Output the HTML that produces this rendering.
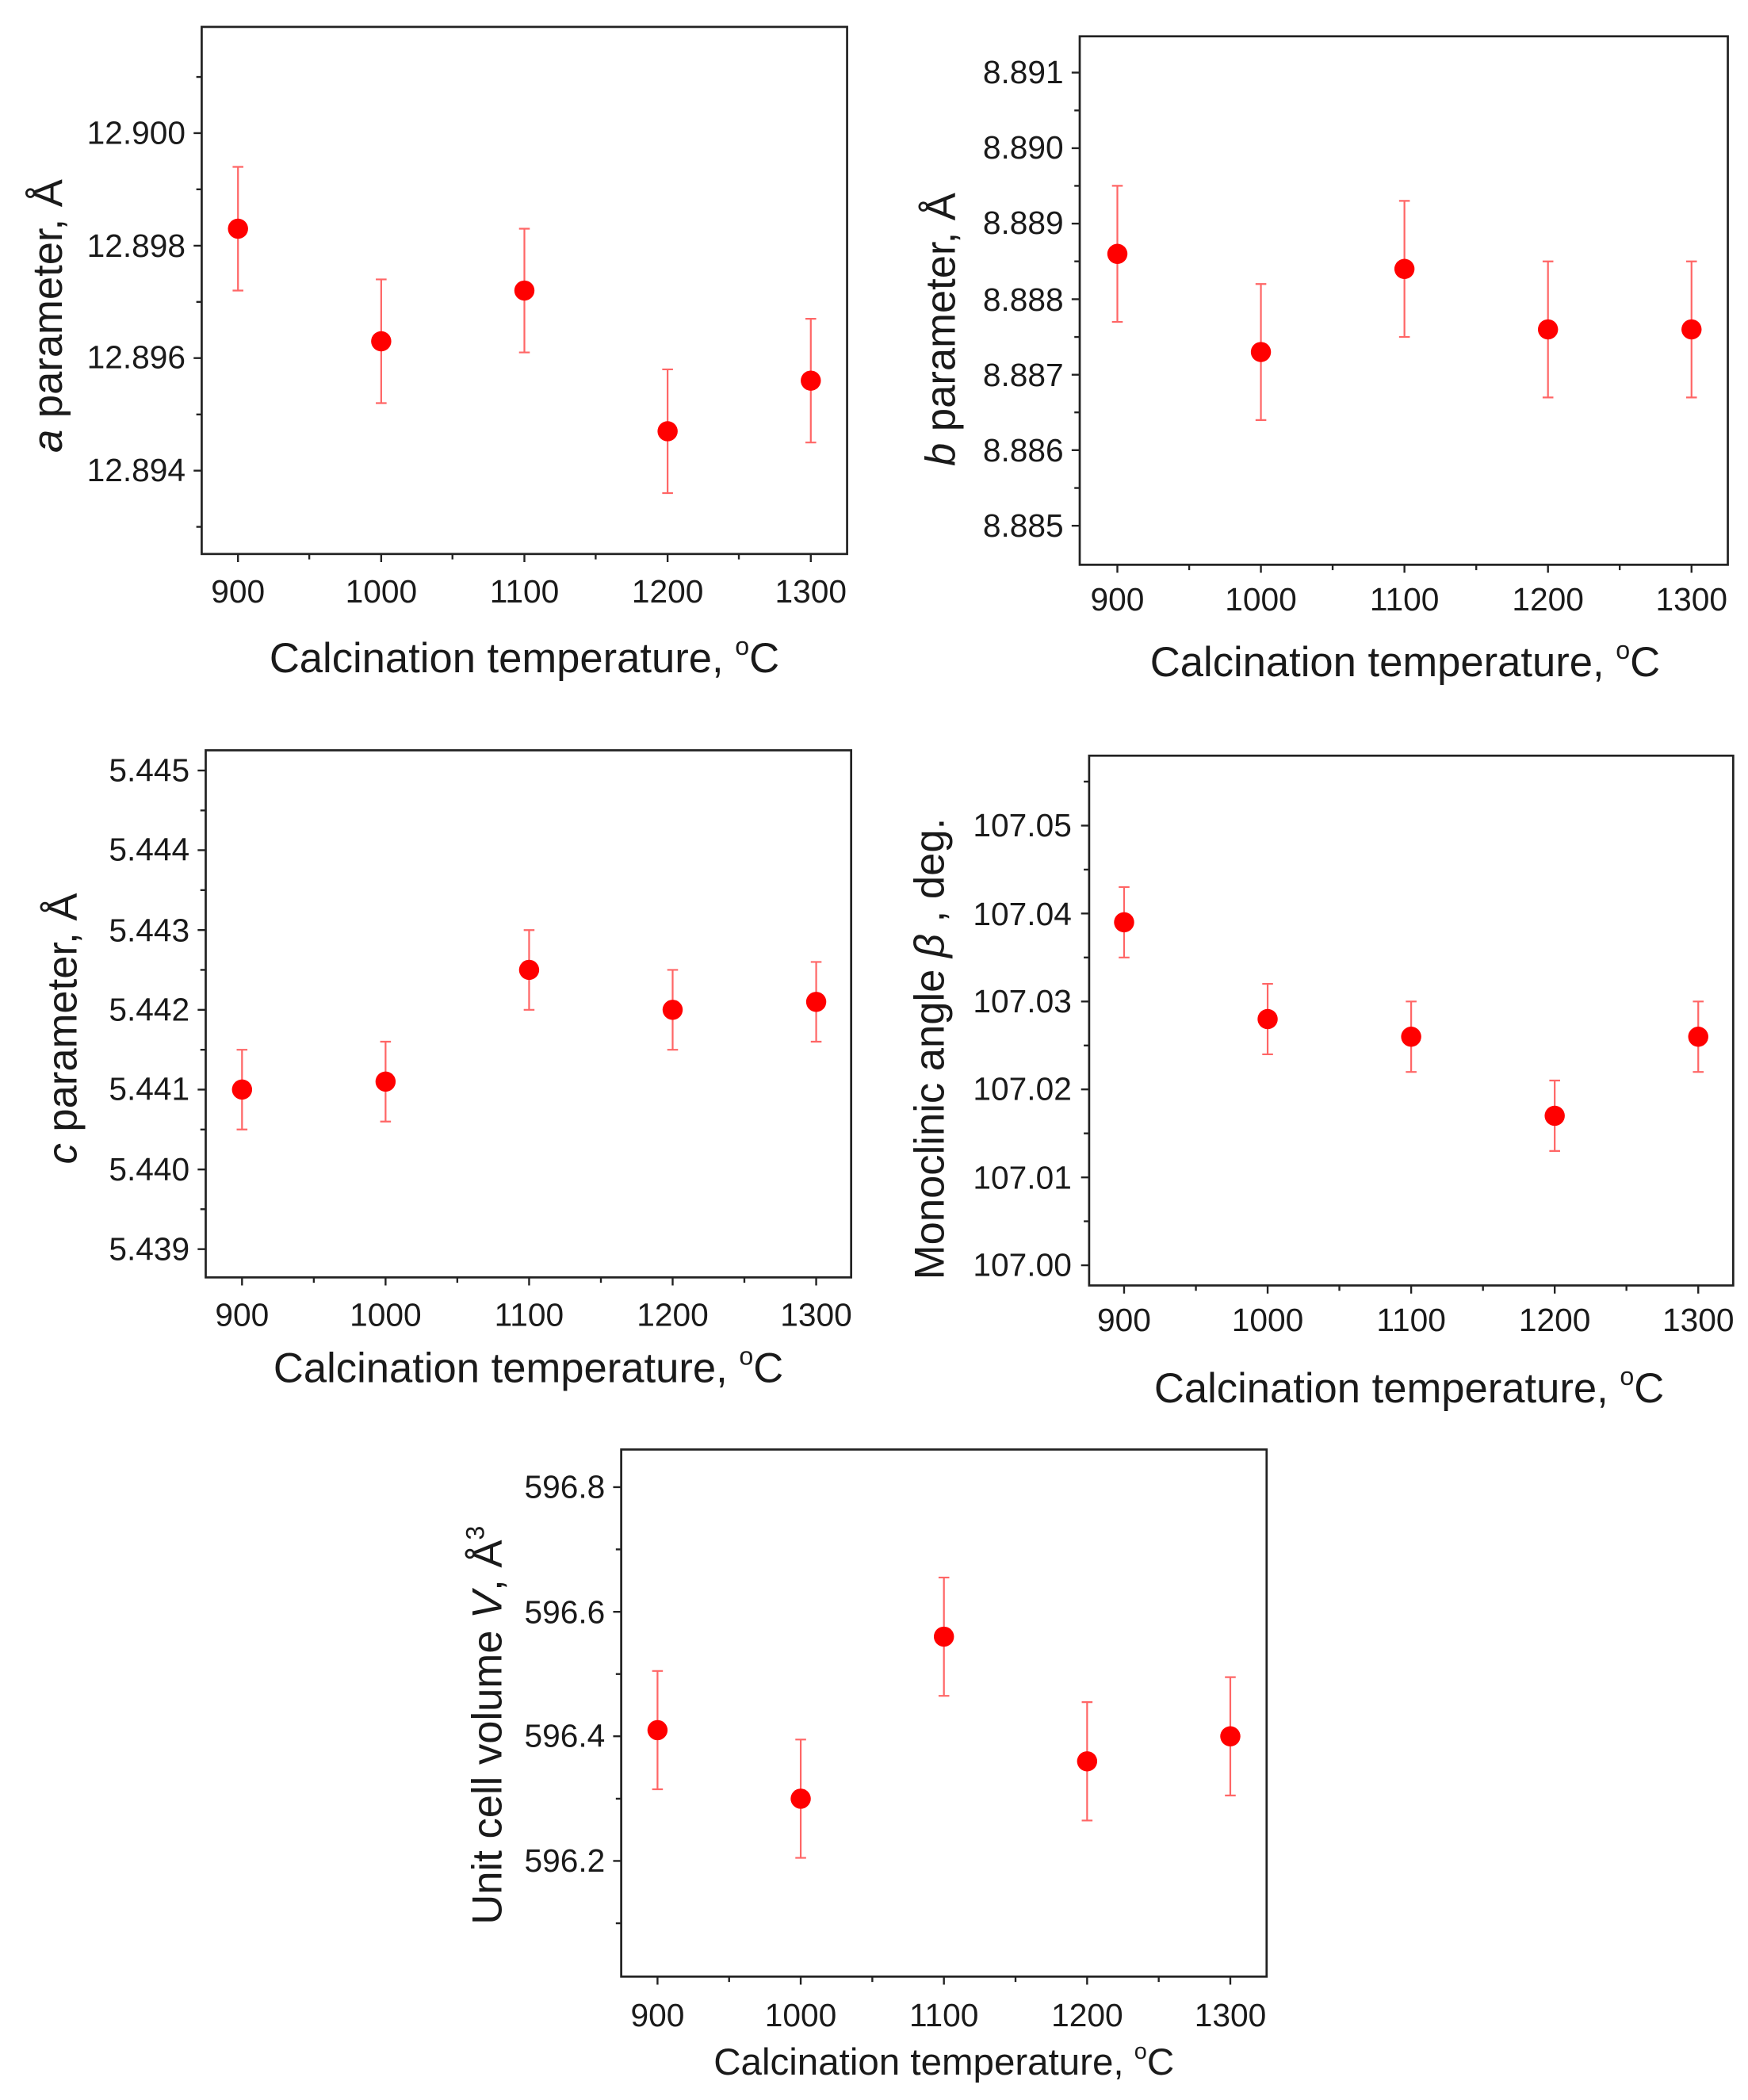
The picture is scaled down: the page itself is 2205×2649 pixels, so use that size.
<!DOCTYPE html>
<html><head><meta charset="utf-8"><style>
html,body{margin:0;padding:0;background:#fff;}
svg{display:block;}
text{font-family:"Liberation Sans",Arial,sans-serif;fill:#1a1a1a;}
.t{font-size:24px;}
.ti{font-size:31px;}
.ax{fill:none;stroke:#222;stroke-width:1.6;}
.tk{stroke:#222;stroke-width:1.4;}
.eb{stroke:#f66;stroke-width:1.3;fill:none;}
.pt{fill:#f00;}
</style></head><body>
<svg width="2205" height="2649" viewBox="0 0 2205 2649" xmlns="http://www.w3.org/2000/svg">
<g transform="scale(1.69615)">

<!-- Plot 1 -->
<rect class="ax" x="150" y="20" width="480" height="392"/>
<path class="tk" d="M150 99h-6M150 182.7h-6M150 266.3h-6M150 350h-6M150 57.2h-4M150 140.8h-4M150 224.5h-4M150 308.2h-4M150 391.8h-4
M177 412v6M283.5 412v6M390 412v6M496.5 412v6M603 412v6M230 412v4M336.5 412v4M443 412v4M549.5 412v4"/>
<g class="t" text-anchor="end">
<text x="138" y="107">12.900</text><text x="138" y="191">12.898</text><text x="138" y="274">12.896</text><text x="138" y="358">12.894</text>
</g>
<g class="t" text-anchor="middle">
<text x="177" y="448">900</text><text x="283.5" y="448">1000</text><text x="390" y="448">1100</text><text x="496.5" y="448">1200</text><text x="603" y="448">1300</text>
</g>
<text class="ti" x="390" y="500" text-anchor="middle">Calcination temperature, <tspan font-size="19" dy="-13">o</tspan><tspan dy="13">C</tspan></text>
<text class="ti" transform="translate(46,235) rotate(-90)" text-anchor="middle"><tspan font-style="italic">a</tspan> parameter, Å</text>
<path class="eb" d="M177 124.1V216.1M173 124.1h8M173 216.1h8M283.5 207.8V299.8M279.5 207.8h8M279.5 299.8h8M390 170.1V262.1M386 170.1h8M386 262.1h8M496.5 274.7V366.7M492.5 274.7h8M492.5 366.7h8M603 237.1V329.1M599 237.1h8M599 329.1h8"/>
<g class="pt"><circle cx="177" cy="170.1" r="7.5"/><circle cx="283.5" cy="253.8" r="7.5"/><circle cx="390" cy="216.1" r="7.5"/><circle cx="496.5" cy="320.7" r="7.5"/><circle cx="603" cy="283.1" r="7.5"/></g>

<!-- Plot 2 -->
<rect class="ax" x="803" y="27" width="482" height="393"/>
<path class="tk" d="M803 54h-6M803 110.2h-6M803 166.3h-6M803 222.5h-6M803 278.7h-6M803 334.8h-6M803 391h-6M803 82.1h-4M803 138.2h-4M803 194.4h-4M803 250.6h-4M803 306.7h-4M803 362.9h-4
M831 420v6M937.75 420v6M1044.5 420v6M1151.25 420v6M1258 420v6M884.4 420v4M991.1 420v4M1097.9 420v4M1204.6 420v4"/>
<g class="t" text-anchor="end">
<text x="791" y="62">8.891</text><text x="791" y="118">8.890</text><text x="791" y="174">8.889</text><text x="791" y="231">8.888</text><text x="791" y="287">8.887</text><text x="791" y="343">8.886</text><text x="791" y="399">8.885</text>
</g>
<g class="t" text-anchor="middle">
<text x="831" y="454">900</text><text x="937.75" y="454">1000</text><text x="1044.5" y="454">1100</text><text x="1151.25" y="454">1200</text><text x="1258" y="454">1300</text>
</g>
<text class="ti" x="1045" y="503" text-anchor="middle">Calcination temperature, <tspan font-size="19" dy="-13">o</tspan><tspan dy="13">C</tspan></text>
<text class="ti" transform="translate(710,245) rotate(-90)" text-anchor="middle"><tspan font-style="italic">b</tspan> parameter, Å</text>
<path class="eb" d="M831 138.2V239.4M827 138.2h8M827 239.4h8M937.75 211.2V312.4M933.75 211.2h8M933.75 312.4h8M1044.5 149.4V250.6M1040.5 149.4h8M1040.5 250.6h8M1151.25 194.4V295.6M1147.25 194.4h8M1147.25 295.6h8M1258 194.4V295.6M1254 194.4h8M1254 295.6h8"/>
<g class="pt"><circle cx="831" cy="188.8" r="7.5"/><circle cx="937.75" cy="261.8" r="7.5"/><circle cx="1044.5" cy="200" r="7.5"/><circle cx="1151.25" cy="245" r="7.5"/><circle cx="1258" cy="245" r="7.5"/></g>

<!-- Plot 3 -->
<rect class="ax" x="153" y="558" width="480" height="392"/>
<path class="tk" d="M153 573h-6M153 632.3h-6M153 691.7h-6M153 751h-6M153 810.3h-6M153 869.7h-6M153 929h-6M153 602.7h-4M153 662h-4M153 721.3h-4M153 780.7h-4M153 840h-4M153 899.3h-4
M180 950v6M286.75 950v6M393.5 950v6M500.25 950v6M607 950v6M233.4 950v4M340.1 950v4M446.9 950v4M553.6 950v4"/>
<g class="t" text-anchor="end">
<text x="141" y="581">5.445</text><text x="141" y="640">5.444</text><text x="141" y="700">5.443</text><text x="141" y="759">5.442</text><text x="141" y="818">5.441</text><text x="141" y="878">5.440</text><text x="141" y="937">5.439</text>
</g>
<g class="t" text-anchor="middle">
<text x="180" y="986">900</text><text x="286.75" y="986">1000</text><text x="393.5" y="986">1100</text><text x="500.25" y="986">1200</text><text x="607" y="986">1300</text>
</g>
<text class="ti" x="393" y="1028" text-anchor="middle">Calcination temperature, <tspan font-size="19" dy="-13">o</tspan><tspan dy="13">C</tspan></text>
<text class="ti" transform="translate(57,765) rotate(-90)" text-anchor="middle"><tspan font-style="italic">c</tspan> parameter, Å</text>
<path class="eb" d="M180 780.7V840M176 780.7h8M176 840h8M286.75 774.7V834.1M282.75 774.7h8M282.75 834.1h8M393.5 691.7V751M389.5 691.7h8M389.5 751h8M500.25 721.3V780.7M496.25 721.3h8M496.25 780.7h8M607 715.4V774.7M603 715.4h8M603 774.7h8"/>
<g class="pt"><circle cx="180" cy="810.3" r="7.5"/><circle cx="286.75" cy="804.4" r="7.5"/><circle cx="393.5" cy="721.3" r="7.5"/><circle cx="500.25" cy="751" r="7.5"/><circle cx="607" cy="745.1" r="7.5"/></g>

<!-- Plot 4 -->
<rect class="ax" x="810" y="562" width="479" height="394"/>
<path class="tk" d="M810 614h-6M810 679.4h-6M810 744.8h-6M810 810.2h-6M810 875.6h-6M810 941h-6M810 581.3h-4M810 646.7h-4M810 712.1h-4M810 777.5h-4M810 842.9h-4M810 908.3h-4
M836 956v6M942.75 956v6M1049.5 956v6M1156.25 956v6M1263 956v6M889.4 956v4M996.1 956v4M1102.9 956v4M1209.6 956v4"/>
<g class="t" text-anchor="end">
<text x="797" y="622">107.05</text><text x="797" y="688">107.04</text><text x="797" y="753">107.03</text><text x="797" y="818">107.02</text><text x="797" y="884">107.01</text><text x="797" y="949">107.00</text>
</g>
<g class="t" text-anchor="middle">
<text x="836" y="990">900</text><text x="942.75" y="990">1000</text><text x="1049.5" y="990">1100</text><text x="1156.25" y="990">1200</text><text x="1263" y="990">1300</text>
</g>
<text class="ti" x="1048" y="1043" text-anchor="middle">Calcination temperature, <tspan font-size="19" dy="-13">o</tspan><tspan dy="13">C</tspan></text>
<text class="ti" transform="translate(702,780) rotate(-90)" text-anchor="middle">Monoclinic angle <tspan font-style="italic">β</tspan> , deg.</text>
<path class="eb" d="M836 659.7V712.1M832 659.7h8M832 712.1h8M942.75 731.7V784.1M938.75 731.7h8M938.75 784.1h8M1049.5 744.8V797.2M1045.5 744.8h8M1045.5 797.2h8M1156.25 803.6V856M1152.25 803.6h8M1152.25 856h8M1263 744.8V797.2M1259 744.8h8M1259 797.2h8"/>
<g class="pt"><circle cx="836" cy="685.9" r="7.5"/><circle cx="942.75" cy="757.9" r="7.5"/><circle cx="1049.5" cy="771" r="7.5"/><circle cx="1156.25" cy="829.8" r="7.5"/><circle cx="1263" cy="771" r="7.5"/></g>

<!-- Plot 5 -->
<rect class="ax" x="462" y="1078" width="480" height="392"/>
<path class="tk" d="M462 1106h-6M462 1198.7h-6M462 1291.3h-6M462 1384h-6M462 1152.3h-4M462 1245h-4M462 1337.7h-4M462 1430.3h-4
M489 1470v6M595.5 1470v6M702 1470v6M808.5 1470v6M915 1470v6M542.25 1470v4M648.75 1470v4M755.25 1470v4M861.75 1470v4"/>
<g class="t" text-anchor="end">
<text x="450" y="1114">596.8</text><text x="450" y="1207">596.6</text><text x="450" y="1299">596.4</text><text x="450" y="1392">596.2</text>
</g>
<g class="t" text-anchor="middle">
<text x="489" y="1507">900</text><text x="595.5" y="1507">1000</text><text x="702" y="1507">1100</text><text x="808.5" y="1507">1200</text><text x="915" y="1507">1300</text>
</g>
<text x="702" y="1543" text-anchor="middle" style="font-size:28px">Calcination temperature, <tspan style="font-size:17px" dy="-12">o</tspan><tspan dy="12">C</tspan></text>
<text class="ti" transform="translate(373,1283) rotate(-90)" text-anchor="middle">Unit cell volume <tspan font-style="italic">V</tspan>, Å<tspan font-size="19" dy="-13">3</tspan></text>
<path class="eb" d="M489 1242.7V1330.7M485 1242.7h8M485 1330.7h8M595.5 1293.7V1381.7M591.5 1293.7h8M591.5 1381.7h8M702 1173.2V1261.2M698 1173.2h8M698 1261.2h8M808.5 1265.9V1353.9M804.5 1265.9h8M804.5 1353.9h8M915 1247.3V1335.3M911 1247.3h8M911 1335.3h8"/>
<g class="pt"><circle cx="489" cy="1286.7" r="7.5"/><circle cx="595.5" cy="1337.7" r="7.5"/><circle cx="702" cy="1217.2" r="7.5"/><circle cx="808.5" cy="1309.9" r="7.5"/><circle cx="915" cy="1291.3" r="7.5"/></g>

</g>
</svg>
</body></html>
